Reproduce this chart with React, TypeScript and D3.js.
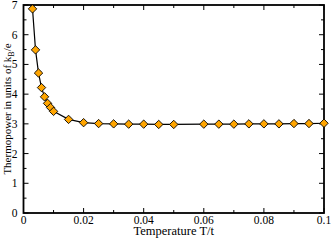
import React from 'react';
import { scaleLinear, line } from 'd3';

const temps = [0.003, 0.004, 0.005, 0.006, 0.007, 0.008, 0.009, 0.01, 0.015, 0.02, 0.025, 0.03, 0.035, 0.04, 0.045, 0.05, 0.06, 0.065, 0.07, 0.075, 0.08, 0.085, 0.09, 0.095, 0.1];
const thermo = [6.87, 5.49, 4.71, 4.22, 3.91, 3.69, 3.55, 3.42, 3.15, 3.04, 3.01, 3.0, 2.99, 2.99, 2.98, 2.98, 2.99, 2.99, 2.99, 3.0, 3.0, 3.0, 3.01, 3.01, 3.02];
const xTicks = [0, 0.02, 0.04, 0.06, 0.08, 0.1];
const xTickLabels = ['0', '0.02', '0.04', '0.06', '0.08', '0.1'];
const xMinor = [0.01, 0.03, 0.05, 0.07, 0.09];
const yTicks = [0, 1, 2, 3, 4, 5, 6, 7];
const yMinor = [0.5, 1.5, 2.5, 3.5, 4.5, 5.5, 6.5];

export default function App() {
  const W = 332, H = 241;
  const left = 23.5, right = 324, top = 5, bottom = 213;
  const x = scaleLinear().domain([0, 0.1]).range([left, right]);
  const y = scaleLinear().domain([0, 7]).range([bottom, top]);
  const pts = temps.map((t, i) => [t, thermo[i]] as [number, number]);
  const path = line<[number, number]>().x(d => x(d[0])).y(d => y(d[1]))(pts) || '';
  const r = 4.2;
  const diamond = `M0,${-r}L${r},0L0,${r}L${-r},0Z`;
  const font = 'Liberation Serif, Times New Roman, serif';

  return (
    <div style={{ position: 'absolute', left: 0, top: 0 }}>
      <svg width={W} height={H} fontFamily={font} style={{ display: 'block' }}>
        <rect width={W} height={H} fill="white" />
        {/* ticks, inside on all four sides */}
        <g stroke="black" strokeWidth={1}>
          {xTicks.map(t => (
            <g key={'xt' + t}>
              <line x1={x(t)} x2={x(t)} y1={bottom} y2={bottom - 5} />
              <line x1={x(t)} x2={x(t)} y1={top} y2={top + 5} />
            </g>
          ))}
          {xMinor.map(t => (
            <g key={'xm' + t}>
              <line x1={x(t)} x2={x(t)} y1={bottom} y2={bottom - 3} />
              <line x1={x(t)} x2={x(t)} y1={top} y2={top + 3} />
            </g>
          ))}
          {yTicks.map(t => (
            <g key={'yt' + t}>
              <line x1={left} x2={left + 5} y1={y(t)} y2={y(t)} />
              <line x1={right} x2={right - 5} y1={y(t)} y2={y(t)} />
            </g>
          ))}
          {yMinor.map(t => (
            <g key={'ym' + t}>
              <line x1={left} x2={left + 3} y1={y(t)} y2={y(t)} />
              <line x1={right} x2={right - 3} y1={y(t)} y2={y(t)} />
            </g>
          ))}
        </g>
        <rect x={left} y={top} width={right - left} height={bottom - top} fill="none" stroke="black" strokeWidth={1.8} />
        <path d={path} fill="none" stroke="black" strokeWidth={1.2} />
        {pts.map((d, i) => (
          <path key={i} d={diamond} transform={`translate(${x(d[0])},${y(d[1])})`} fill="#FFA500" stroke="black" strokeWidth={0.9} />
        ))}
        {xTicks.map((t, i) => (
          <text key={'xl' + t} x={x(t)} y={bottom + 10.5} textAnchor="middle" fontSize={11.5}>{xTickLabels[i]}</text>
        ))}
        {yTicks.map(t => (
          <text key={'yl' + t} x={left - 6} y={y(t) + 4} textAnchor="end" fontSize={11.5}>{t}</text>
        ))}
        <text x={(left + right) / 2} y={bottom + 22} textAnchor="middle" fontSize={12.5}>Temperature T/t</text>
        <text transform={`translate(11,${(top + bottom) / 2}) rotate(-90)`} textAnchor="middle" fontSize={11}>
          Thermopower in units of k<tspan dy={2.5} fontSize={8}>B</tspan><tspan dy={-2.5}>/e</tspan>
        </text>
      </svg>
    </div>
  );
}
